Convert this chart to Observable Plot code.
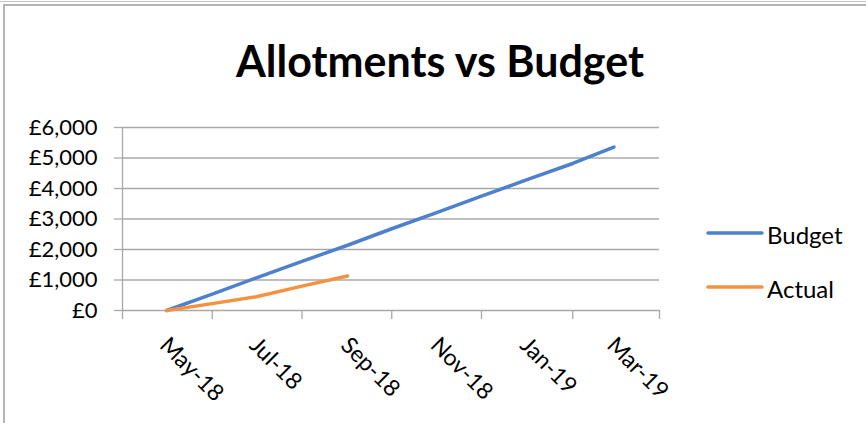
<!DOCTYPE html>
<html>
<head>
<meta charset="utf-8">
<script src="https://cdn.jsdelivr.net/npm/d3@7"></script>
<script src="https://cdn.jsdelivr.net/npm/@observablehq/plot@0.6"></script>
<style>
  html, body { margin: 0; padding: 0; background: #fff; overflow: hidden; }
  #wrap { position: relative; width: 866px; height: 423px; overflow: hidden; font-family: Lato, "Open Sans", sans-serif; }
  #topline { position: absolute; left: 0; top: 1px; width: 866px; height: 1px; background: #c6c6c6; }
  #frame { position: absolute; left: 3px; top: 4px; width: 900px; height: 500px; border-left: 2px solid #b4b4b4; border-top: 2px solid #b4b4b4; box-sizing: border-box; }
  #titlebox { position: relative; width: 866px; height: 100px; }
  #title { position: absolute; left: 0; width: 880px; top: 39px; text-align: center; font-weight: 700; font-size: 43px; line-height: 43px; color: #000; white-space: nowrap; }
  .leg { position: absolute; font-size: 24px; line-height: 24px; color: #000; white-space: nowrap; }
  .sw { position: absolute; }
</style>
</head>
<body>
<div id="wrap">
  <div id="topline"></div>
  <div id="frame"></div>
  <div id="titlebox"><div id="title">Allotments vs Budget</div></div>
  <div id="chart"></div>
  <div id="legend"></div>
</div>
<script>
// ---- data ----
const seriesNames = ["Budget", "Actual"];
const seriesColors = ["#4e80cc", "#f59242"];

const budgetMonths = ["2018-05-01","2018-06-01","2018-07-01","2018-08-01","2018-09-01","2018-10-01","2018-11-01","2018-12-01","2019-01-01","2019-02-01","2019-03-01"];
const budgetValues = [0, 540, 1070, 1610, 2140, 2680, 3220, 3750, 4290, 4820, 5360];

const actualMonths = ["2018-05-01","2018-06-01","2018-07-01","2018-08-01","2018-09-01"];
const actualValues = [0, 225, 450, 800, 1130];

const yTicks = [0, 1000, 2000, 3000, 4000, 5000, 6000];
const xLabelMonths = ["2018-05-01","2018-07-01","2018-09-01","2018-11-01","2019-01-01","2019-03-01"];
const xTickMonths = ["2018-04-01","2018-06-01","2018-08-01","2018-10-01","2018-12-01","2019-02-01","2019-04-01"];
const xDomain = ["2018-04-01", "2019-04-01"];

// ---- build ----
const parse = d3.utcParse("%Y-%m-%d");
const rows = [
  ...budgetMonths.map((m, i) => ({series: seriesNames[0], date: parse(m), value: budgetValues[i]})),
  ...actualMonths.map((m, i) => ({series: seriesNames[1], date: parse(m), value: actualValues[i]}))
];
const gray = "#a9a9a9";
const fmtMoney = d => "£" + d3.format(",")(d);
const fmtMonth = d3.utcFormat("%b-%y");

const chart = Plot.plot({
  width: 866,
  height: 323,
  marginLeft: 122,
  marginRight: 207,
  marginTop: 27,
  marginBottom: 113,
  style: { fontFamily: "Lato, 'Open Sans', sans-serif", fontSize: "22px", background: "transparent", color: "#000", overflow: "visible" },
  x: { type: "utc", domain: xDomain.map(parse), axis: null, label: null },
  y: { domain: [0, 6000], axis: null, label: null },
  color: { domain: seriesNames, range: seriesColors },
  marks: [
    Plot.gridY(yTicks, { stroke: gray, strokeOpacity: 1, strokeWidth: 1.3 }),
    Plot.axisY(yTicks, { tickSize: 8, tickPadding: 17, stroke: gray, strokeWidth: 1.3, fill: "#000", tickFormat: fmtMoney }),
    Plot.ruleX([parse(xDomain[0])], { y1: 0, y2: 6000, stroke: gray, strokeWidth: 1.3 }),
    Plot.axisX(xTickMonths.map(parse), { tickSize: 9, stroke: gray, strokeWidth: 1.3, tickFormat: () => "" }),
    Plot.text(xLabelMonths.map(parse), { x: d => d, y: 0, text: fmtMonth, rotate: 45, textAnchor: "start", lineAnchor: "middle", dx: -3, dy: 31, fill: "#000", fontSize: 23 }),
    Plot.line(rows, { x: "date", y: "value", z: "series", stroke: "series", strokeWidth: 3.5, strokeLinecap: "round", strokeLinejoin: "round" })
  ]
});
document.getElementById("chart").appendChild(chart);

// ---- legend (HTML) ----
const legend = document.getElementById("legend");
const legendY = [233, 287];
seriesNames.forEach((name, i) => {
  const sw = document.createElementNS("http://www.w3.org/2000/svg", "svg");
  sw.setAttribute("class", "sw");
  sw.setAttribute("width", 60); sw.setAttribute("height", 10);
  sw.style.left = "705px"; sw.style.top = (legendY[i] - 5) + "px";
  const ln = document.createElementNS("http://www.w3.org/2000/svg", "line");
  ln.setAttribute("x1", 3); ln.setAttribute("x2", 57); ln.setAttribute("y1", 5); ln.setAttribute("y2", 5);
  ln.setAttribute("stroke", seriesColors[i]); ln.setAttribute("stroke-width", 3.5); ln.setAttribute("stroke-linecap", "round");
  sw.appendChild(ln);
  legend.appendChild(sw);
  const t = document.createElement("div");
  t.className = "leg";
  t.textContent = name;
  t.style.left = "767px";
  t.style.top = (legendY[i] + 11 - 21.3) + "px";
  legend.appendChild(t);
});
</script>
</body>
</html>
